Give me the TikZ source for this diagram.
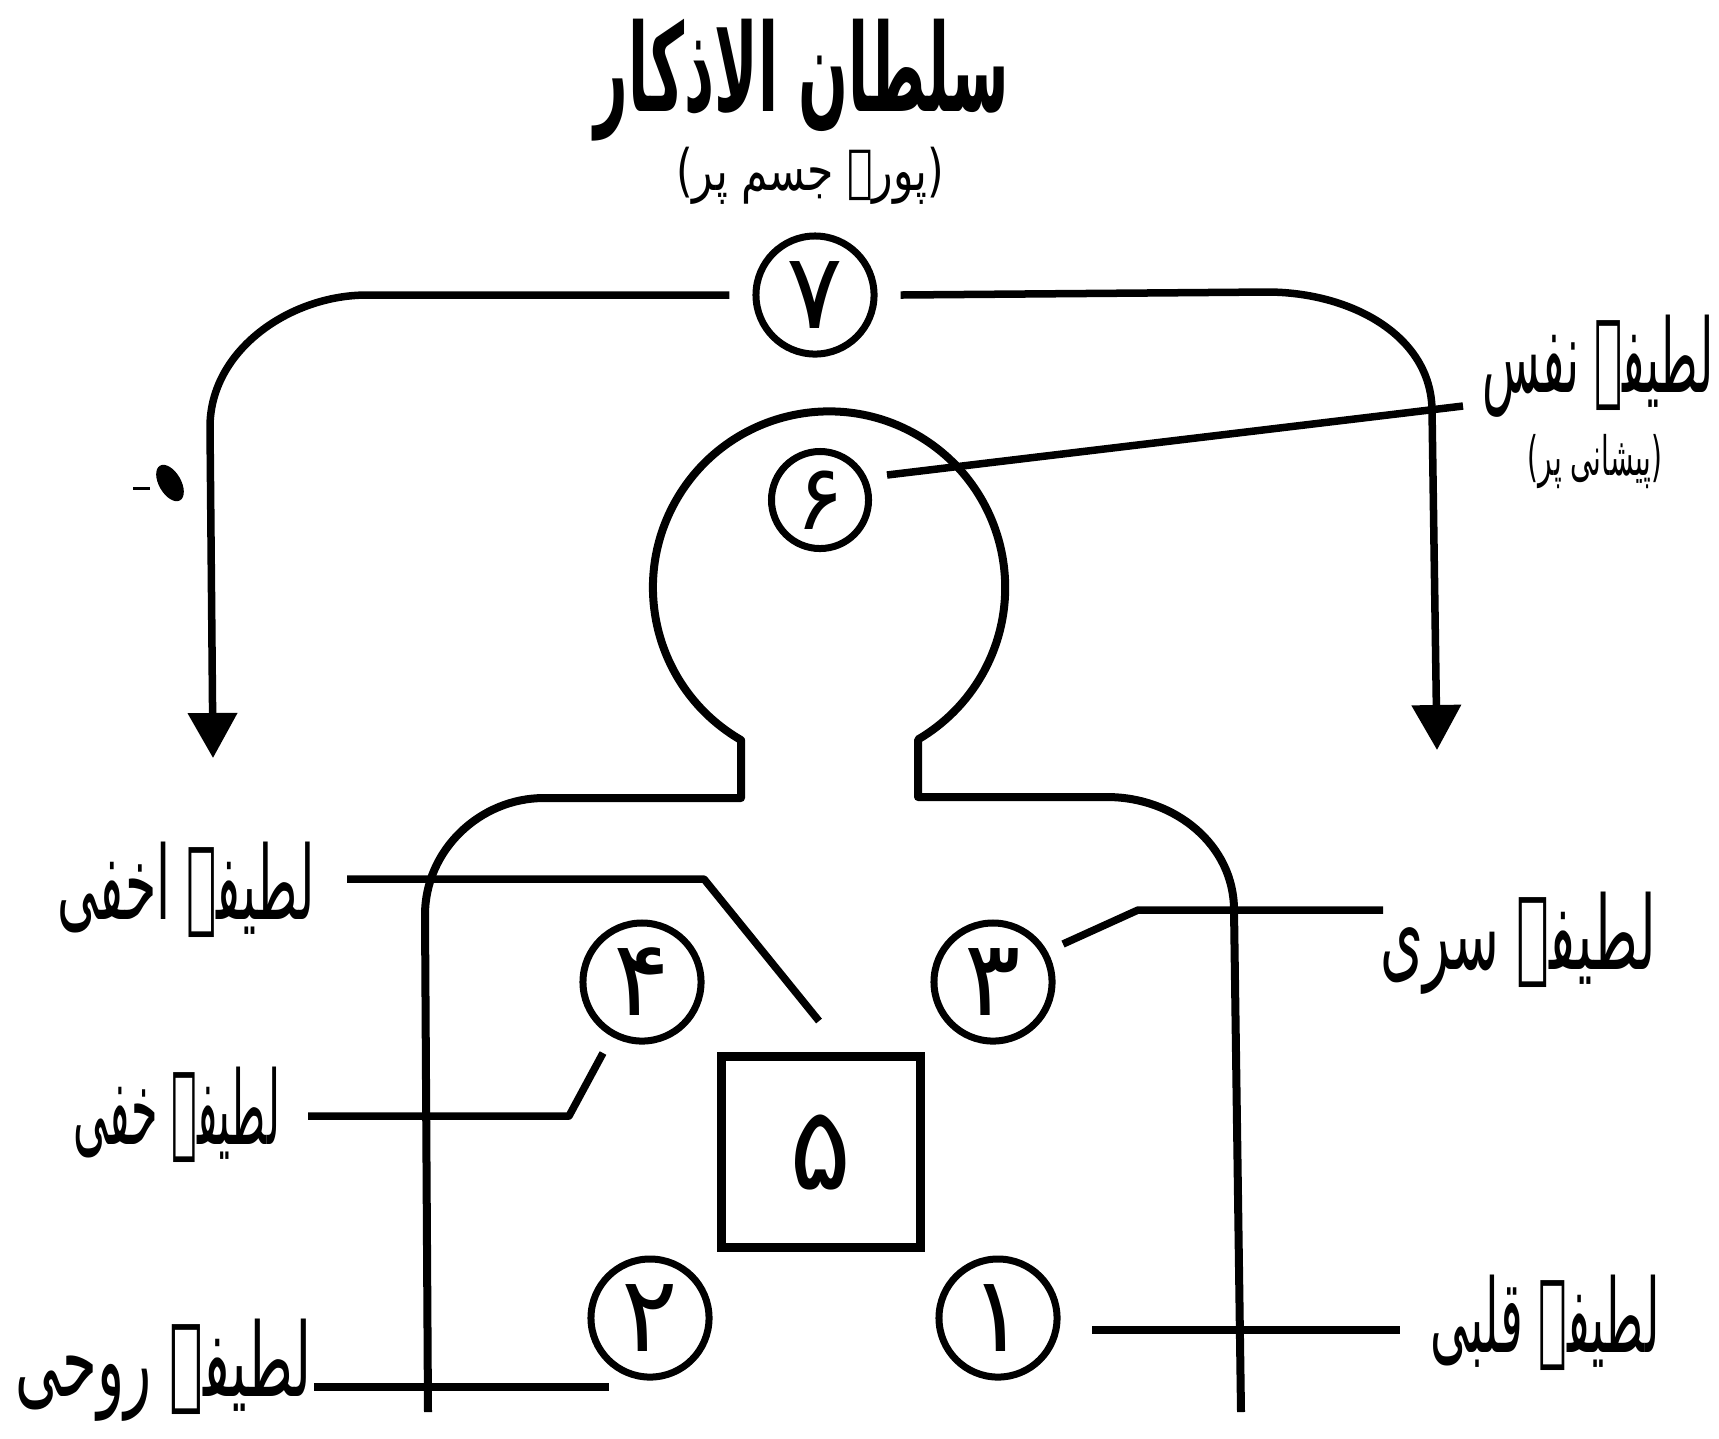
\documentclass[tikz,border=0pt]{standalone}
\usepackage{fontspec}
\usepackage{graphicx}
\usetikzlibrary{arrows.meta}
\TeXXeTstate=1
\newfontfamily\urdu[Script=Arabic,Language=Urdu]{DejaVu Sans}
% scaled Urdu text: #1 = horizontal factor, #2 = vertical factor, #3 = size (pt), #4 = text
\newcommand\urtxt[4]{\scalebox{#1}[#2]{\urdu\fontsize{#3}{#3}\selectfont #4}}
\newcommand\urbold[4]{\scalebox{#1}[#2]{\urdu\bfseries\fontsize{#3}{#3}\selectfont #4}}
\tikzset{
  conn/.style={line width=0.075cm, line cap=butt, line join=round},
  bodyline/.style={line width=0.08cm, line join=round},
  arr/.style={conn, -{Triangle[length=0.45cm,width=0.48cm]}},
  numc/.style={circle, draw, line width=0.07cm, minimum size=1.18cm, inner sep=0pt,
    font=\urdu\fontsize{30}{34}\selectfont},
  boxn/.style={rectangle, draw, line width=0.09cm, minimum width=1.98cm, minimum height=1.91cm,
    inner sep=0pt, font=\urdu\fontsize{33}{36}\selectfont},
  lbl/.style={inner sep=0pt},
}
\begin{document}
\begin{tikzpicture}[x=0.01cm,y=0.01cm]
\useasboundingbox (0,0) rectangle (1719,-1438);
\fill[white] (0,0) rectangle (1719,-1438);

% titles
\node[lbl] (title) at (802,-80) {\urbold{0.64}{1.33}{26}{\beginR سلطان الاذکار\endR}};
\node[lbl] (subt) at (810,-176) {\urtxt{0.93}{1.25}{13}{\beginR (پورے جسم پر)\endR}};

% numbered circles and box
\node[numc] (c7) at (815,-295) {۷};
\node[numc, minimum size=0.97cm, font=\urdu\fontsize{26}{30}\selectfont] (c6) at (820,-500) {۶};
\node[numc] (c4) at (642,-982) {۴};
\node[numc] (c3) at (993,-982) {۳};
\node[numc] (c2) at (650,-1318) {۲};
\node[numc] (c1) at (998,-1318) {۱};
\node[boxn] (b5) at (821,-1152) {۵};

% labels
\node[lbl] (nafs) at (1598,-366) {\urtxt{0.67}{1.45}{20}{\beginR لطیفہ نفس\endR}};
\node[lbl] (pesh) at (1595,-462) {\urtxt{0.72}{1.4}{11}{\beginR (پیشانی پر)\endR}};
\node[lbl] (akhfa) at (186,-890) {\urtxt{0.72}{1.45}{20}{\beginR لطیفہ اخفی\endR}};
\node[lbl] (khafi) at (177,-1115) {\urtxt{0.61}{1.45}{20}{\beginR لطیفہ خفی\endR}};
\node[lbl] (ruhi) at (164,-1370) {\urtxt{0.80}{1.45}{20}{\beginR لطیفہ روحی\endR}};
\node[lbl] (sirri) at (1518,-943) {\urtxt{0.78}{1.45}{20}{\beginR لطیفہ سری\endR}};
\node[lbl] (qalbi) at (1545,-1323) {\urtxt{0.68}{1.45}{20}{\beginR لطیفہ قلبی\endR}};

% free ends and bends
\coordinate (la) at (213,-758);
\coordinate (ra) at (1437,-750);
\coordinate (nafsEnd) at (1463,-406);
\coordinate (akS) at (347,-879);
\coordinate (akB) at (704,-879);
\coordinate (akE) at (819,-1021);
\coordinate (khS) at (308,-1116);
\coordinate (khB) at (569,-1116);
\coordinate (ruS) at (314,-1387);
\coordinate (ruE) at (609,-1387);
\coordinate (srB) at (1138,-910);
\coordinate (srE) at (1383,-910);
\coordinate (qE) at (1400,-1330);

% arrows from circle 7
\draw[arr] ([xshift=-0.23cm]c7.west) -- (367,-295)
   .. controls (290,-295) and (210,-350) .. (210,-427) -- (la);
\draw[arr] ([xshift=0.23cm]c7.east) -- (1267,-292)
   .. controls (1350,-292) and (1431,-335) .. (1432,-410) -- (ra);

% body outline
\draw[bodyline] (428,-1412) -- (425,-915)
   .. controls (425,-850) and (480,-798) .. (544,-798) -- (741,-798) -- (741,-740)
   arc[start angle=240, end angle=-59.6, radius=1.76cm]
   -- (918,-797) -- (1107,-797)
   .. controls (1175,-797) and (1234,-845) .. (1234,-910) -- (1241,-1412);

% connectors
\draw[conn] ([shift={(67,25)}]c6.center) -- (nafsEnd);
\draw[conn] (akS) -- (akB) -- (akE);
\draw[conn] (khS) -- (khB) -- ([shift={(-39,-71)}]c4.center);
\draw[conn] (ruS) -- (ruE);
\draw[conn] ([shift={(70,38)}]c3.center) -- (srB) -- (srE);
\draw[conn] ([shift={(94,-12)}]c1.center) -- (qE);

% small mark left of the left arrow
\draw[line width=0.03cm] (133,-488) -- (150,-488);
\fill[rotate around={30:(170,-483)}] (170,-483) ellipse [x radius=0.11cm, y radius=0.2cm];
\end{tikzpicture}
\end{document}
